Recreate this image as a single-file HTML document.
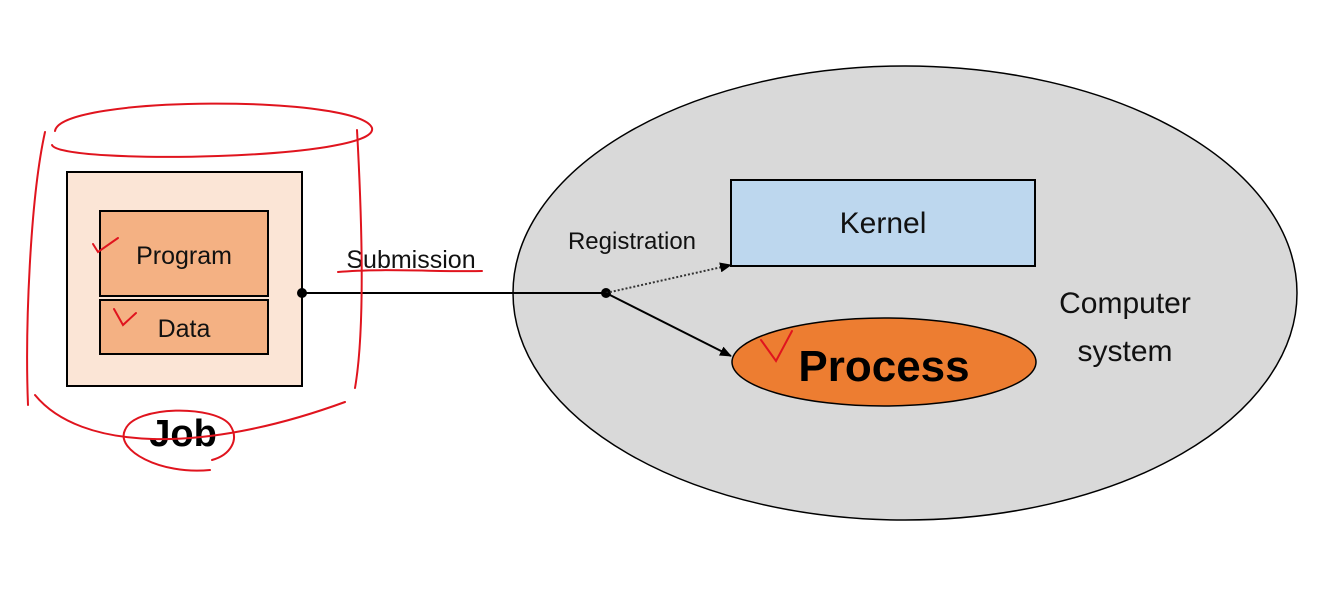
<!DOCTYPE html>
<html><head><meta charset="utf-8"><style>
html,body{margin:0;padding:0;background:#fff;width:1335px;height:610px;overflow:hidden}
svg text{font-family:"Liberation Sans",sans-serif}
</style></head><body>
<svg width="1335" height="610" viewBox="0 0 1335 610" xmlns="http://www.w3.org/2000/svg">
<defs>
<marker id="ah" markerWidth="12" markerHeight="10" refX="11" refY="5" orient="auto" markerUnits="userSpaceOnUse">
<path d="M0,0 L12,5 L0,10 z" fill="#000"/></marker>
</defs>
<ellipse cx="905" cy="293" rx="392" ry="227" fill="#d9d9d9" stroke="#000" stroke-width="1.5"/>
<rect x="731" y="180" width="304" height="86" fill="#bdd7ee" stroke="#000" stroke-width="2"/>
<text x="883" y="233" font-size="30" text-anchor="middle" fill="#111">Kernel</text>
<ellipse cx="884" cy="362" rx="152" ry="44" fill="#ed7d31" stroke="#000" stroke-width="1.5"/>
<text x="884" y="381" font-size="44" font-weight="bold" text-anchor="middle" fill="#000">Process</text>
<text x="1125" y="313" font-size="30" text-anchor="middle" fill="#111">Computer</text>
<text x="1125" y="361" font-size="30" text-anchor="middle" fill="#111">system</text>
<text x="632" y="249" font-size="24" text-anchor="middle" fill="#111">Registration</text>
<rect x="67" y="172" width="235" height="214" fill="#fbe5d6" stroke="#000" stroke-width="2"/>
<rect x="100" y="211" width="168" height="85" fill="#f4b183" stroke="#000" stroke-width="2"/>
<rect x="100" y="300" width="168" height="54" fill="#f4b183" stroke="#000" stroke-width="2"/>
<text x="184" y="264" font-size="25" text-anchor="middle" fill="#111">Program</text>
<text x="184" y="337" font-size="25" text-anchor="middle" fill="#111">Data</text>
<text x="183" y="446" font-size="38" font-weight="bold" text-anchor="middle" fill="#000">Job</text>
<text x="411" y="268" font-size="25" text-anchor="middle" fill="#111">Submission</text>
<line x1="302" y1="293" x2="606" y2="293" stroke="#000" stroke-width="2"/>
<circle cx="302" cy="293" r="5" fill="#000"/>
<circle cx="606" cy="293" r="5" fill="#000"/>
<line x1="606" y1="293" x2="731" y2="265" stroke="#333" stroke-width="2" stroke-dasharray="2,2" marker-end="url(#ah)"/>
<line x1="606" y1="293" x2="731" y2="356" stroke="#000" stroke-width="2" marker-end="url(#ah)"/>
<g fill="none" stroke="#e0141e" stroke-width="2" stroke-linecap="round">
<path d="M55,131 C60,95 360,95 372,128 C380,160 60,165 52,145"/>
<path d="M45,132 C30,200 25,330 28,405"/>
<path d="M357,130 C362,220 365,330 355,388"/>
<path d="M35,395 C80,450 200,455 345,402"/>
<path d="M210,470 C160,475 115,450 125,430 C135,405 215,405 230,425 C240,440 230,455 212,460"/>
<path d="M338,272 C380,268 440,272 482,271"/>
<path d="M93,244 L98,252 L118,238"/>
<path d="M114,309 L123,325 L136,313"/>
<path d="M761,340 L776,361 L792,331"/>
</g>
</svg>
</body></html>
